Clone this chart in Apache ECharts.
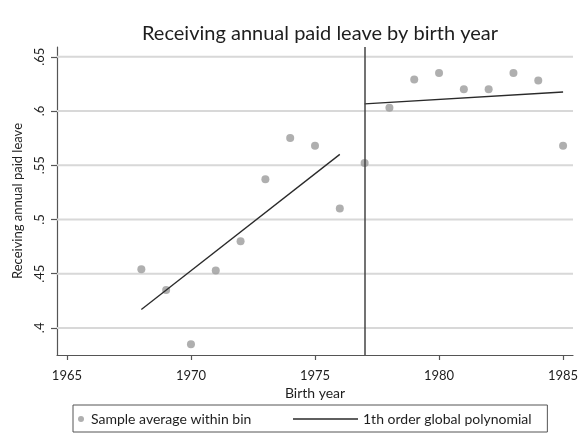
<!DOCTYPE html>
<html>
<head>
<meta charset="utf-8">
<script src="https://cdn.jsdelivr.net/npm/echarts@6/dist/echarts.min.js"></script>
<style>html,body{margin:0;padding:0;background:#fff}#c{width:585px;height:443px}</style>
</head>
<body>
<div id="c"></div>
<script>
// ---- data ----
var birthYears = [1968,1969,1970,1971,1972,1973,1974,1975,1976,1977,1978,1979,1980,1981,1982,1983,1984,1985];
var binAverages = [0.454,0.435,0.385,0.453,0.480,0.537,0.575,0.568,0.510,0.552,0.603,0.629,0.635,0.620,0.620,0.635,0.628,0.568];
var fitLeftYears = [1968,1976];
var fitLeftValues = [0.417,0.560];
var fitRightYears = [1977,1985];
var fitRightValues = [0.6065,0.6175];
var cutoffYear = 1977;
var xTicks = [1965,1970,1975,1980,1985];
var yTicks = [0.40,0.45,0.50,0.55,0.60,0.65];
var yTickLabels = ['.4','.45','.5','.55','.6','.65'];
var titleText = 'Receiving annual paid leave by birth year';
var xName = 'Birth year';
var yName = 'Receiving annual paid leave';
var scatterName = 'Sample average within bin';
var fitName = '1th order global polynomial';

var X_MIN = 1964.6, X_MAX = 1985.4, Y_MIN = 0.375, Y_MAX = 0.659;

function pairs(xs, ys){ return xs.map(function(x,i){ return [x, ys[i]]; }); }

var FONT = 'Lato';
var gridData = [];
yTicks.forEach(function(t, i){
  if (i > 0) gridData.push([X_MIN, '-']);
  gridData.push([X_MIN, t]);
  gridData.push([X_MAX, t]);
});

var chart = echarts.init(document.getElementById('c'), null, {renderer:'canvas'});
chart.setOption({
  animation:false,
  backgroundColor:'#fff',
  textStyle:{fontFamily:FONT},
  title:{text:titleText, left:315, textAlign:'center', top:19,
    textStyle:{fontFamily:FONT,fontSize:20,fontWeight:'normal',color:'#1e1e1e'}},
  grid:{left:57,right:12,top:47,bottom:88,containLabel:false,show:false},
  legend:[{
    left:73, top:405, orient:'horizontal',
    padding:[7,296,6,5],
    borderColor:'#555', borderWidth:1,
    itemWidth:10, itemHeight:6,
    data:[{name:scatterName, icon:'circle'}],
    textStyle:{fontFamily:FONT,fontSize:14,color:'#1e1e1e'}
  },{
    left:293, top:405, padding:[7,0,6,0],
    itemWidth:65, itemHeight:1.4,
    data:[{name:fitName, icon:'rect'}],
    textStyle:{fontFamily:FONT,fontSize:14,color:'#1e1e1e'}
  }],
  xAxis:{type:'value', min:X_MIN, max:X_MAX,
    name:xName, nameLocation:'middle', nameGap:25,
    nameTextStyle:{fontFamily:FONT,fontSize:14,color:'#1e1e1e'},
    axisLine:{show:true,onZero:false,lineStyle:{color:'#555',width:1.2}},
    axisTick:{show:true,length:5,customValues:xTicks,lineStyle:{color:'#555',width:1.2}},
    axisLabel:{customValues:xTicks,margin:14,fontFamily:FONT,fontSize:13,color:'#1e1e1e',
      formatter:function(v){ return String(Math.round(v)); }},
    splitLine:{show:false}
  },
  yAxis:{type:'value', min:Y_MIN, max:Y_MAX,
    name:yName, nameLocation:'middle', nameGap:33,
    nameTextStyle:{fontFamily:FONT,fontSize:13,color:'#1e1e1e'},
    axisLine:{show:true,onZero:false,lineStyle:{color:'#555',width:1.2}},
    axisTick:{show:true,length:6,customValues:yTicks,lineStyle:{color:'#555',width:1.2}},
    axisLabel:{customValues:yTicks,rotate:90,margin:11,fontFamily:FONT,fontSize:13,color:'#1e1e1e',
      formatter:function(v){ var i=yTicks.findIndex(function(t){return Math.abs(t-v)<1e-9;}); return i>=0?yTickLabels[i]:''; }},
    splitLine:{show:false}
  },
  series:[
    {name:'gridlines', type:'line', data:gridData, symbol:'none', silent:true,
      connectNulls:false, z:1, lineStyle:{color:'#d8d8d8',width:2}, itemStyle:{color:'#d8d8d8'}},
    {name:scatterName, type:'scatter', data:pairs(birthYears,binAverages),
      symbolSize:8, itemStyle:{color:'#9b9b9b'}, z:3},
    {name:fitName, type:'line', data:pairs(fitLeftYears,fitLeftValues), symbol:'none',
      lineStyle:{color:'#2a2a2a',width:1.3}, itemStyle:{color:'#2a2a2a'}, z:4,
      markLine:{silent:true, symbol:['none','none'], label:{show:false},
        lineStyle:{color:'#444',width:1.5,type:'solid'},
        data:[{xAxis:cutoffYear}]}
    },
    {name:fitName, type:'line', data:pairs(fitRightYears,fitRightValues), symbol:'none',
      lineStyle:{color:'#2a2a2a',width:1.3}, itemStyle:{color:'#2a2a2a'}, z:4}
  ]
});
</script>
</body>
</html>
